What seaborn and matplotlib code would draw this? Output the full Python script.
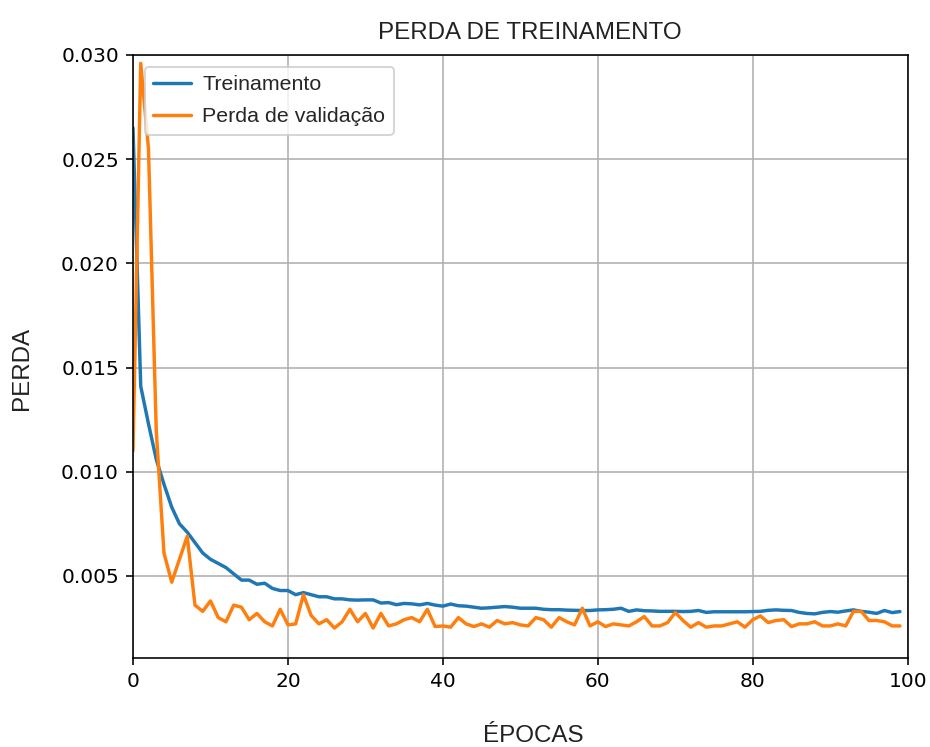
import numpy as np
import pandas as pd
import matplotlib
matplotlib.use("Agg")
import matplotlib.pyplot as plt
import seaborn as sns

# Loss history per epoch
epochs = list(range(100))

train_loss = [
    0.0265, 0.0141, 0.0123, 0.0106, 0.0094, 0.0083, 0.0075, 0.0071, 0.0066, 0.0061,
    0.0058, 0.0056, 0.0054, 0.0051, 0.0048, 0.0048, 0.0046, 0.00465, 0.0044, 0.0043,
    0.0043, 0.0041, 0.0042, 0.0041, 0.0040, 0.0040, 0.0039, 0.0039, 0.00385, 0.00384,
    0.00385, 0.00385, 0.0037, 0.00372, 0.00362, 0.00368, 0.00366, 0.00361, 0.00368, 0.0036,
    0.00355, 0.00365, 0.00357, 0.00355, 0.0035, 0.00345, 0.00347, 0.0035, 0.00353, 0.0035,
    0.00345, 0.00345, 0.00345, 0.0034, 0.00338, 0.00338, 0.00336, 0.00335, 0.00334, 0.00334,
    0.00337, 0.00338, 0.0034, 0.00345, 0.0033, 0.00337, 0.00333, 0.00332, 0.0033, 0.0033,
    0.0033, 0.00329, 0.0033, 0.00334, 0.00325, 0.00328, 0.00328, 0.00328, 0.00328, 0.00328,
    0.00329, 0.0033, 0.00335, 0.00337, 0.00335, 0.00334, 0.00325, 0.0032, 0.00318, 0.00325,
    0.00329, 0.00326, 0.00332, 0.00337, 0.0033, 0.00326, 0.0032, 0.00334, 0.00324, 0.00329,
]

val_loss = [
    0.0110, 0.0296, 0.0255, 0.0120, 0.0061, 0.0047, 0.0058, 0.0069, 0.0036, 0.0033,
    0.0038, 0.0030, 0.0028, 0.0036, 0.0035, 0.0029, 0.0032, 0.0028, 0.0026, 0.0034,
    0.00265, 0.0027, 0.0041, 0.0031, 0.0027, 0.0029, 0.0025, 0.0028, 0.0034, 0.0028,
    0.0032, 0.0025, 0.0032, 0.0026, 0.0027, 0.0029, 0.0030, 0.0028, 0.0034, 0.00257,
    0.0026, 0.00254, 0.0030, 0.0027, 0.00257, 0.0027, 0.00254, 0.00286, 0.0027, 0.00276,
    0.00265, 0.0026, 0.0030, 0.0029, 0.00254, 0.0030, 0.0028, 0.00265, 0.00345, 0.0026,
    0.0028, 0.00257, 0.0027, 0.00265, 0.0026, 0.0028, 0.00305, 0.0026, 0.0026, 0.00276,
    0.00324, 0.00286, 0.00254, 0.00276, 0.00254, 0.0026, 0.0026, 0.0027, 0.0028, 0.00254,
    0.0029, 0.00308, 0.00276, 0.00286, 0.0029, 0.00257, 0.0027, 0.0027, 0.0028, 0.0026,
    0.0026, 0.0027, 0.0026, 0.0033, 0.0033, 0.00286, 0.00286, 0.0028, 0.0026, 0.0026,
]

series_names = ["Treinamento", "Perda de validação"]
series_colors = ["#1f77b4", "#ff7f0e"]

df = pd.DataFrame({
    "epoca": epochs * 2,
    "perda": train_loss + val_loss,
    "serie": [series_names[0]] * len(epochs) + [series_names[1]] * len(epochs),
})

sns.set_style("white")
plt.rcParams["font.family"] = ["DejaVu Sans"]
plt.rcParams["font.size"] = 10

fig, ax = plt.subplots(figsize=(930 / 145, 747 / 145), dpi=145)
fig.subplots_adjust(left=0.143, right=0.976, top=0.9264, bottom=0.1191)

sns.lineplot(data=df, x="epoca", y="perda", hue="serie", hue_order=series_names,
             palette=series_colors, linewidth=1.7, ax=ax)

ax.set_xlim(0, 100)
ax.set_ylim(0.00106, 0.030)
ax.set_xticks([0, 20, 40, 60, 80, 100])
ax.set_yticks([0.005, 0.010, 0.015, 0.020, 0.025, 0.030])
ax.set_yticklabels(["0.005", "0.010", "0.015", "0.020", "0.025", "0.030"])
ax.grid(True, color="#b0b0b0", linewidth=0.8)
ax.tick_params(axis="both", direction="out", length=3.5, width=0.8, colors="black",
               labelsize=10, left=True, bottom=True)
for s in ax.spines.values():
    s.set_color("black")
    s.set_linewidth(0.8)

label_font = dict(family=["Liberation Sans", "DejaVu Sans"], size=12, color="#222222")
ax.set_title("PERDA DE TREINAMENTO", fontdict=label_font, pad=8, x=0.512)
ax.set_xlabel("ÉPOCAS", fontdict=label_font, labelpad=17)
ax.set_ylabel("PERDA", fontdict=label_font, labelpad=14)
ax.xaxis.label.set_x(0.517)
ax.yaxis.label.set_y(0.480)

ax.legend(loc="upper left", prop={"family": ["Liberation Sans", "DejaVu Sans"], "size": 10.6},
          frameon=True, framealpha=0.8, edgecolor="#cccccc", fancybox=True,
          handlelength=1.75, handletextpad=0.55, labelspacing=0.6, borderaxespad=0.55)

fig.savefig("out.png", dpi=145)
